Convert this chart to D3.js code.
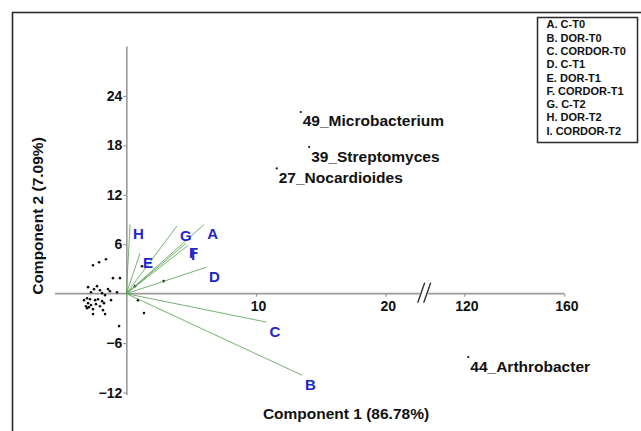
<!DOCTYPE html>
<html>
<head>
<meta charset="utf-8">
<script src="https://cdn.jsdelivr.net/npm/d3@7"></script>
<style>
  html, body { margin: 0; padding: 0; background: #fff; }
  svg { display: block; font-family: "Liberation Sans", Arial, sans-serif; }
</style>
</head>
<body>
<svg id="chart" width="641" height="431"></svg>
<script>
// Treatment loading vectors (biplot arrows)
const vectorLabels = ["A", "B", "C", "D", "E", "F", "G", "H", "I"];
const vectorX = [6.0, 13.55, 10.8, 6.15, 1.06, 4.6, 3.9, 0.29, 4.75];
const vectorY = [8.4, -9.9, -3.45, 3.2, 4.9, 6.1, 8.2, 8.4, 5.85];

// Legend text for the vectors
const legendItems = [
  "A. C-T0", "B. DOR-T0", "C. CORDOR-T0",
  "D. C-T1", "E. DOR-T1", "F. CORDOR-T1",
  "G. C-T2", "H. DOR-T2", "I. CORDOR-T2"
];

// Named OTU scores
const otuNames = ["49_Microbacterium", "39_Streptomyces", "27_Nocardioides", "44_Arthrobacter"];
const otuX = [13.45, 14.1, 11.6, 121.6];
const otuY = [22.05, 17.8, 15.2, -7.7];

// Remaining (unlabelled) OTU scores
const otherX = [-2.57, -2.10, -1.57, -1.03, -0.49, -2.95, -2.72, -2.49, -2.26, -2.03,
                -1.87, -1.41, -1.26, -0.72, -1.64, -3.03, -2.80, -2.41, -2.18, -1.87,
                -1.72, -2.95, -3.11, -3.03, -2.88, -2.72, -2.57, -2.34, -2.03, -1.80,
                -2.57, -1.64, -0.56, 0.67, 2.88, 0.90, 1.36, 1.21, -3.26, -1.18];
const otherY = [3.45, 3.82, 4.18, 1.88, 1.88, 0.79, 0.18, 0.55, 0.91, 0.42,
                0.06, 0.55, 0.30, 0.18, -0.18, -0.55, -0.67, -0.79, -0.67, -0.91,
                -1.15, -1.15, -1.52, -1.76, -1.64, -1.39, -1.88, -1.27, -1.52, -2.00,
                -2.48, -2.48, -3.94, 0.91, 1.52, -0.79, -2.36, 3.33, -0.79, -0.79];

const xTicks = [10, 20, 120, 160];
const yTicks = [24, 18, 12, 6, -6, -12];

// Axis break on component 1 between 22.7 and 106.4
const xBreakLo = 22.7, xBreakHi = 106.4;

const svg = d3.select("#chart");

// Outer frame
svg.append("rect")
  .attr("x", 12.5).attr("y", 12.5)
  .attr("width", 660).attr("height", 460)
  .attr("fill", "none").attr("stroke", "#2b2b2b").attr("stroke-width", 1.6);

// Piecewise linear x scale with a gap for the axis break
const x = d3.scaleLinear()
  .domain([-5.5, xBreakLo, xBreakHi, 160])
  .range([55, 420.7, 430.3, 564.3]);
const y = d3.scaleLinear()
  .domain([-12.3, 30])
  .range([395, 46.5]);

const axisColor = "#9a9a9a";

// X axis line, split at the break
const g = svg.append("g");
g.append("line")
  .attr("x1", x(-5.5)).attr("x2", x(xBreakLo) - 1)
  .attr("y1", y(0)).attr("y2", y(0))
  .attr("stroke", axisColor).attr("stroke-width", 1.6);
g.append("line")
  .attr("x1", x(xBreakHi) - 2).attr("x2", x(160))
  .attr("y1", y(0)).attr("y2", y(0))
  .attr("stroke", axisColor).attr("stroke-width", 1.6);

// Break marks "//"
[0, 6].forEach(off => {
  g.append("line")
    .attr("x1", x(xBreakLo) - 3 + off).attr("y1", y(0) + 9)
    .attr("x2", x(xBreakLo) + 4 + off).attr("y2", y(0) - 11)
    .attr("stroke", "#333").attr("stroke-width", 1.4);
});

// X axis ticks and labels
const xAxis = d3.axisBottom(x).tickValues(xTicks).tickSize(3).tickPadding(4).tickFormat(d3.format("d"));
const xg = svg.append("g").attr("transform", `translate(0,${y(0)})`).call(xAxis);
xg.select(".domain").remove();
xg.selectAll(".tick line").attr("stroke", axisColor).attr("stroke-width", 1.2);
xg.selectAll(".tick text")
  .attr("font-family", "'Liberation Sans', Arial, sans-serif")
  .attr("font-size", 14).attr("font-weight", "bold").attr("fill", "#111")
  .attr("dx", 2);

// Y axis
const yAxis = d3.axisLeft(y).tickValues(yTicks).tickSize(3).tickPadding(1).tickFormat(d3.format("d"));
const yg = svg.append("g").attr("transform", `translate(${x(0)},0)`).call(yAxis);
yg.select(".domain").attr("stroke", axisColor).attr("stroke-width", 1.6)
  .attr("d", `M0.5,${y(-12.3)}V${y(30)}`);
yg.selectAll(".tick line").attr("stroke", axisColor).attr("stroke-width", 1.2);
yg.selectAll(".tick text")
  .attr("font-family", "'Liberation Sans', Arial, sans-serif")
  .attr("font-size", 14).attr("font-weight", "bold").attr("fill", "#111");

// Axis titles
svg.append("text")
  .attr("x", 346).attr("y", 419)
  .attr("text-anchor", "middle")
  .attr("font-size", 15.5).attr("font-weight", "bold").attr("fill", "#111")
  .text("Component 1 (86.78%)");
svg.append("text")
  .attr("transform", "translate(43,216) rotate(-90)")
  .attr("text-anchor", "middle")
  .attr("font-size", 15.5).attr("font-weight", "bold").attr("fill", "#111")
  .text("Component 2 (7.09%)");

// Unlabelled OTU points
svg.append("g").selectAll("circle")
  .data(d3.range(otherX.length))
  .join("circle")
  .attr("cx", i => x(otherX[i]))
  .attr("cy", i => y(otherY[i]))
  .attr("r", 1.3)
  .attr("fill", "#111");

// Loading vectors
const vectors = vectorLabels.map((lab, i) => ({ lab, vx: vectorX[i], vy: vectorY[i] }));
svg.append("g").selectAll("line")
  .data(vectors)
  .join("line")
  .attr("x1", x(0)).attr("y1", y(0))
  .attr("x2", d => x(d.vx)).attr("y2", d => y(d.vy))
  .attr("stroke", "#5fa35a").attr("stroke-width", 1).attr("stroke-opacity", 0.85);
svg.append("g").selectAll("text")
  .data(vectors)
  .join("text")
  .attr("x", d => x(d.vx) + 3)
  .attr("y", d => y(d.vy) + 15)
  .attr("font-size", 15).attr("font-weight", "bold").attr("fill", "#2424c8")
  .text(d => d.lab);

// Named OTU points with labels
const otus = otuNames.map((name, i) => ({ name, ox: otuX[i], oy: otuY[i] }));
const og = svg.append("g");
og.selectAll("circle")
  .data(otus)
  .join("circle")
  .attr("cx", d => x(d.ox)).attr("cy", d => y(d.oy))
  .attr("r", 1.1).attr("fill", "#111");
og.selectAll("text")
  .data(otus)
  .join("text")
  .attr("x", d => x(d.ox) + 2)
  .attr("y", d => y(d.oy) + 14.5)
  .attr("font-size", 15.5).attr("font-weight", "bold").attr("fill", "#111")
  .text(d => d.name);

// Legend
const lg = svg.append("g");
lg.append("rect")
  .attr("x", 537.5).attr("y", 17.5)
  .attr("width", 100).attr("height", 125)
  .attr("fill", "#fff").attr("stroke", "#2b2b2b").attr("stroke-width", 1.5);
lg.selectAll("text")
  .data(legendItems)
  .join("text")
  .attr("x", 546.5)
  .attr("y", (d, i) => 28.3 + i * 13.3)
  .attr("font-size", 11).attr("font-weight", "bold").attr("fill", "#111")
  .text(d => d);
</script>
</body>
</html>
